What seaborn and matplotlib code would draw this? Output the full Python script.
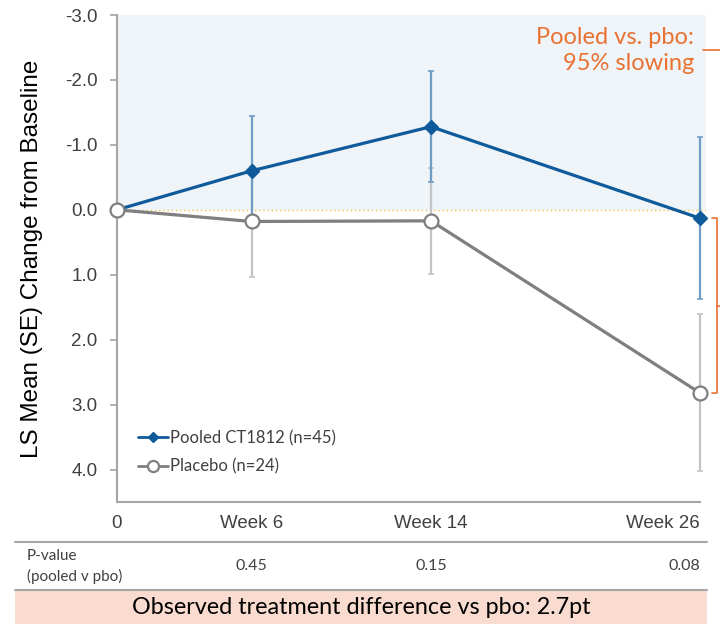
import pandas as pd
import matplotlib
matplotlib.use("Agg")
import matplotlib.pyplot as plt
import matplotlib.transforms as mtransforms
from matplotlib.lines import Line2D
from matplotlib.patches import Rectangle
import seaborn as sns

# --- data ---
weeks = [0, 6, 14, 26]
week_labels = ["0", "Week 6", "Week 14", "Week 26"]
pooled_mean = [0.0, -0.60, -1.28, 0.13]
pooled_se = [0.0, 0.85, 0.85, 1.25]
placebo_mean = [0.0, 0.18, 0.17, 2.82]
placebo_se = [0.0, 0.86, 0.82, 1.21]
p_weeks = [6, 14, 26]
p_values = ["0.45", "0.15", "0.08"]
y_ticks = [-3.0, -2.0, -1.0, 0.0, 1.0, 2.0, 3.0, 4.0]

pooled_label = "Pooled CT1812 (n=45)"
placebo_label = "Placebo (n=24)"

BLUE = "#0F5A9A"
BLUE_ERR = "#6F9DC6"
GREY = "#7F7F7F"
GREY_ERR = "#C4C4C4"
ORANGE = "#E97132"
AXIS_GREY = "#A6A6A6"
TEXT = "#404040"

sns.set_style("white")
plt.rcParams["font.family"] = ["Liberation Sans", "DejaVu Sans"]
SOFT = ["Lato", "DejaVu Sans"]

df_pooled = pd.DataFrame({"week": weeks, "mean": pooled_mean})
df_placebo = pd.DataFrame({"week": weeks, "mean": placebo_mean})

W, H = 720, 625
fig = plt.figure(figsize=(7.2, 6.25), dpi=100)
ax = fig.add_axes([117 / W, 1 - 502 / H, (706 - 117) / W, (502 - 15) / H])

# background shading for improvement region and the zero reference line
ax.axhspan(-3.0, 0.0, color="#EEF4F8", zorder=0, lw=0)
ax.axhline(0.0, color="#F2C14E", ls=(0, (1, 2)), lw=1.0, zorder=1)

# error bars
ax.errorbar(weeks, placebo_mean, yerr=placebo_se, fmt="none", ecolor=GREY_ERR,
            elinewidth=1.6, capsize=2.5, capthick=1.2, zorder=2, clip_on=False)
ax.errorbar(weeks, pooled_mean, yerr=pooled_se, fmt="none", ecolor=BLUE_ERR,
            elinewidth=1.6, capsize=2.5, capthick=1.2, zorder=3, clip_on=False)

sns.lineplot(data=df_pooled, x="week", y="mean", ax=ax, color=BLUE, lw=2.3,
             marker="D", markersize=7, mfc=BLUE, mec=BLUE, markeredgewidth=1,
             label=pooled_label, zorder=4, clip_on=False)
sns.lineplot(data=df_placebo, x="week", y="mean", ax=ax, color=GREY, lw=2.3,
             marker="o", markersize=10, mfc="white", mec=GREY, markeredgewidth=1.6,
             label=placebo_label, zorder=5, clip_on=False)

ax.set_xlim(0, 26 * 589 / 583)
ax.set_ylim(4.5, -3.0)
ax.set_xticks(weeks)
ax.set_xticklabels(week_labels)
ax.set_yticks(y_ticks)
ax.set_yticklabels([f"{v:.1f}" for v in y_ticks])
ax.tick_params(axis="y", length=5, width=1.2, color=AXIS_GREY, pad=9,
               labelsize=13.5, labelcolor=TEXT, left=True)
ax.tick_params(axis="x", length=0, pad=9, labelsize=13.5, labelcolor=TEXT)
ax.get_xticklabels()[-1].set_ha("right")

for side in ["top", "right"]:
    ax.spines[side].set_visible(False)
for side in ["left", "bottom"]:
    ax.spines[side].set_color(AXIS_GREY)
    ax.spines[side].set_linewidth(1.5)
ax.spines["bottom"].set_bounds(0, 26)

ax.set_xlabel("")
ax.set_ylabel("LS Mean (SE) Change from Baseline", fontsize=17.5, color="black")
ax.yaxis.set_label_coords(-0.126, 0.5)

leg = ax.legend(loc="upper left", bbox_to_anchor=(138 / W, 1 - 430 / H),
                bbox_transform=fig.transFigure, frameon=False, markerscale=0.8,
                handlelength=1.8, handletextpad=0.1, labelspacing=0.75,
                borderpad=0, borderaxespad=0, prop={"family": SOFT, "size": 12})
for t in leg.get_texts():
    t.set_color(TEXT)
for h in leg.get_lines():
    h.set_linewidth(2)

# annotation on the right
fig.text(694 / W, 1 - 37 / H, "Pooled vs. pbo:", ha="right", va="center",
         color=ORANGE, fontsize=17, family=SOFT)
fig.text(694 / W, 1 - 63 / H, "95% slowing", ha="right", va="center",
         color=ORANGE, fontsize=17, family=SOFT)
fig.add_artist(Line2D([703 / W, 1.0], [1 - 50 / H, 1 - 50 / H], color=ORANGE, lw=1.2))

br = mtransforms.blended_transform_factory(fig.transFigure, ax.transData)
y_top, y_bot = pooled_mean[-1], placebo_mean[-1]
xb = 717 / W
ax.plot([712 / W, xb, xb, 712 / W], [y_top, y_top, y_bot, y_bot], color=ORANGE,
        lw=1.2, transform=br, clip_on=False)
ax.plot([xb, 1.0], [(y_top + y_bot) / 2] * 2, color=ORANGE, lw=1.2,
        transform=br, clip_on=False)

# p-value table row
for yy in [542, 590]:
    fig.add_artist(Line2D([15 / W, 707 / W], [1 - yy / H, 1 - yy / H],
                          color=AXIS_GREY, lw=1.5))
fig.text(27 / W, 1 - 556 / H, "P-value", ha="left", va="center", fontsize=11,
         color=TEXT, family=SOFT)
fig.text(27 / W, 1 - 576 / H, "(pooled v pbo)", ha="left", va="center", fontsize=11,
         color=TEXT, family=SOFT)
tr = mtransforms.blended_transform_factory(ax.transData, fig.transFigure)
for i, (wk, pv) in enumerate(zip(p_weeks, p_values)):
    ha = "right" if i == len(p_values) - 1 else "center"
    ax.text(wk, 1 - 566 / H, pv, transform=tr, ha=ha, va="center", fontsize=11.5,
            color=TEXT, family=SOFT, clip_on=False)

fig.add_artist(Rectangle((15 / W, 1 - 624 / H), (707 - 15) / W, 33 / H,
                         transform=fig.transFigure, color="#FADBD0", lw=0))
fig.text(361 / W, 1 - 607 / H, "Observed treatment difference vs pbo: 2.7pt",
         ha="center", va="center", fontsize=16.8, color="black", family=SOFT)

fig.savefig("out.png", dpi=100)
